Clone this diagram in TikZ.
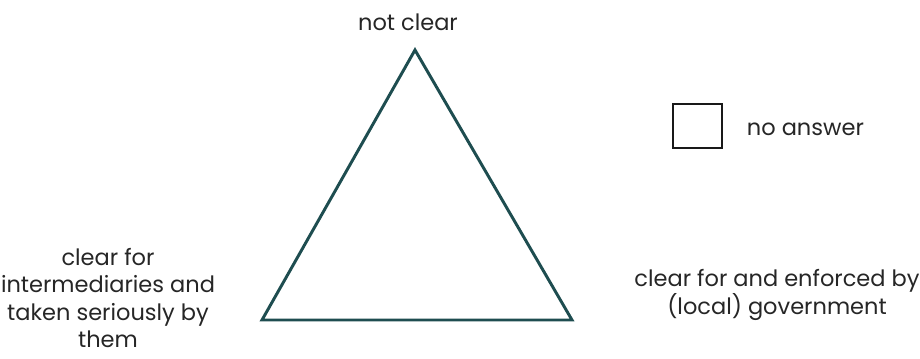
\documentclass[tikz,border=0pt]{standalone}
\usepackage{fontspec}
\setmainfont{Poppins}
\usepackage{xcolor}
\definecolor{edgec}{HTML}{1E4D50}
\tikzset{
  edge/.style={draw=edgec, line width=2.1pt, line join=miter},
  corner/.style={font=\fontsize{16}{19.5}\selectfont, align=center, text=black!85},
  keybox/.style={draw=black!90, line width=1.1pt, minimum width=49*0.025cm, minimum height=44*0.025cm, inner sep=0pt},
}

\begin{document}
\begin{tikzpicture}[x=0.025cm, y=-0.025cm]
\useasboundingbox (0,0) rectangle (920,358);
\coordinate (top) at (415,50);
\coordinate (left) at (262,320);
\coordinate (right) at (572,320);
\draw[edge] (top) -- (left) -- (right) -- cycle;
\node[corner] (notclear) at (408,22) {not clear};
\node[corner] (intermed) at (108,298) {clear for\\intermediaries and\\taken seriously by\\them};
\node[corner] (govern) at (777,295) {clear for and enforced by\\(local) government};
\node[keybox] (key) at (697.5,126) {};
\node[corner, anchor=west] (noanswer) at (742,129) {no answer};
\end{tikzpicture}
\end{document}
